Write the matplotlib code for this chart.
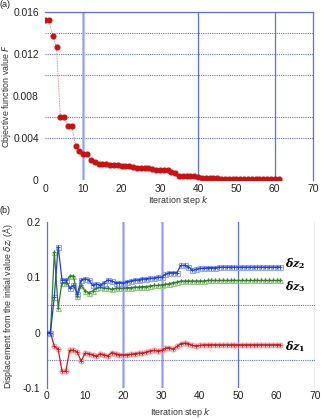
import numpy as np
import matplotlib
matplotlib.use("Agg")
import matplotlib.pyplot as plt

plt.rcParams['font.family'] = ['Liberation Sans', 'DejaVu Sans']
plt.rcParams['mathtext.fontset'] = 'dejavusans'

# ---- Panel (a): objective function value ----
k_a = list(range(62))
F_vals = [0.01524, 0.01524, 0.01377, 0.01266, 0.00601, 0.00601, 0.00515, 0.00515,
          0.00328, 0.00277, 0.00248, 0.00248, 0.00191, 0.00172, 0.00153, 0.00153,
          0.00150, 0.00145, 0.00142, 0.00140, 0.00137, 0.00136, 0.00134, 0.00122,
          0.00120, 0.00120, 0.00120, 0.00120, 0.00110, 0.00097, 0.00095, 0.00095,
          0.00095, 0.00075, 0.00070, 0.00040, 0.00040, 0.00040, 0.00040, 0.00038,
          0.00030, 0.00020, 0.00020, 0.00020, 0.00020, 0.00020, 0.00015, 0.00015,
          0.00015, 0.00015, 0.00014, 0.00014, 0.00013, 0.00013, 0.00012, 0.00012,
          0.00011, 0.00011, 0.00010, 0.00010, 0.00010, 0.00010]

# ---- Panel (b): displacements ----
k_b = list(range(62))
dz2 = [0, 0, 0.065, 0.155, 0.095, 0.095, 0.080, 0.085, 0.070, 0.095, 0.097, 0.095,
       0.085, 0.088, 0.085, 0.090, 0.095, 0.093, 0.090, 0.090, 0.090, 0.092, 0.093,
       0.095, 0.095, 0.097, 0.097, 0.098, 0.098, 0.100, 0.100, 0.105, 0.108, 0.108,
       0.108, 0.121, 0.121, 0.119, 0.112, 0.114, 0.116, 0.116, 0.117, 0.117, 0.117,
       0.118, 0.118, 0.118, 0.118, 0.118, 0.118, 0.118, 0.118, 0.118, 0.118, 0.118,
       0.118, 0.118, 0.118, 0.118, 0.118, 0.118]
dz3 = [0, 0, 0.145, 0.045, 0.090, 0.090, 0.102, 0.102, 0.066, 0.085, 0.075, 0.072,
       0.075, 0.080, 0.082, 0.080, 0.080, 0.078, 0.080, 0.080, 0.080, 0.081, 0.081,
       0.082, 0.082, 0.083, 0.083, 0.084, 0.085, 0.085, 0.086, 0.087, 0.088, 0.090,
       0.091, 0.093, 0.093, 0.093, 0.093, 0.093, 0.093, 0.093, 0.094, 0.094, 0.094,
       0.094, 0.094, 0.094, 0.094, 0.094, 0.094, 0.094, 0.094, 0.094, 0.094, 0.094,
       0.094, 0.094, 0.094, 0.094, 0.094, 0.094]
dz1 = [0, 0, -0.025, -0.030, -0.070, -0.070, -0.032, -0.032, -0.035, -0.052, -0.037,
       -0.038, -0.040, -0.043, -0.038, -0.040, -0.042, -0.036, -0.038, -0.040, -0.040,
       -0.040, -0.039, -0.038, -0.037, -0.037, -0.035, -0.033, -0.032, -0.033, -0.032,
       -0.028, -0.027, -0.030, -0.025, -0.020, -0.019, -0.020, -0.023, -0.024, -0.023,
       -0.022, -0.022, -0.022, -0.022, -0.022, -0.022, -0.022, -0.022, -0.022, -0.022,
       -0.022, -0.022, -0.022, -0.022, -0.022, -0.022, -0.022, -0.022, -0.022, -0.022,
       -0.022]

xticks = [0, 10, 20, 30, 40, 50, 60, 70]
yticks_a = [0, 0.004, 0.008, 0.012, 0.016]
yticklabels_a = ['0', '0.004', '0.008', '0.012', '0.016']
yticks_b = [-0.1, 0, 0.1, 0.2]
yticklabels_b = ['-0.1', '0', '0.1', '0.2']

grid_dark = '#5b6ef0'
grid_light = '#b4c0f6'
text_col = '#222222'
fs_tick = 7.4
fs_label = 6.4

fig = plt.figure(figsize=(3.24, 4.19), dpi=100)

# ---------------- (a) ----------------
ax = fig.add_axes([0.139, 0.570, 0.827, 0.4006])
ax.set_xlim(0, 70)
ax.set_ylim(0, 0.016)
for s in ['left', 'bottom']:
    ax.spines[s].set_visible(False)
for s in ['top', 'right']:
    ax.spines[s].set_color(grid_dark)
    ax.spines[s].set_linewidth(0.9)
for y in [0.004, 0.006, 0.010, 0.012, 0.014]:
    ax.axhline(y, color=grid_dark, lw=0.8, ls=(0, (1, 1)), zorder=1)
ax.axvline(10, color=grid_light, lw=2.0, zorder=1)
ax.axvline(10, color=grid_dark, lw=0.6, alpha=0.5, zorder=1)
for x in [40, 60]:
    ax.axvline(x, color=grid_dark, lw=0.9, zorder=1)
ax.plot(k_a, F_vals, color='#e88a8a', lw=0.6, ls=(0, (2, 1)), zorder=2)
ax.plot(k_a, F_vals, 'o', color='#cc1010', ms=3.4, mec='#cc1010', zorder=3)
ax.set_xticks(xticks)
ax.set_yticks(yticks_a)
ax.set_yticklabels(yticklabels_a)
ax.tick_params(length=0, labelsize=fs_tick, pad=4.5, labelcolor=text_col)
ax.tick_params(axis='x', pad=2.5)
ax.set_xlabel('Iteration step $k$', fontsize=fs_label, color='#333333')
ax.set_ylabel('Objective function value $F$', fontsize=fs_label, color='#333333')
ax.xaxis.set_label_coords(0.5, -0.12)
ax.yaxis.set_label_coords(-0.143, 0.5)
ax.yaxis.label.set_va('center')
ax.xaxis.label.set_va('center')
fig.text(0.0, 0.999, '(a)', fontsize=6.5, ha='left', va='top', color=text_col)

# ---------------- (b) ----------------
bx = fig.add_axes([0.144, 0.074, 0.828, 0.397])
bx.set_xlim(0, 70)
bx.set_ylim(-0.1, 0.2)
for s in ['top', 'bottom', 'right']:
    bx.spines[s].set_visible(False)
bx.spines['left'].set_color(grid_dark)
bx.spines['left'].set_linewidth(0.9)
bx.axvline(70, color=grid_dark, lw=0.9, zorder=1)
bx.axvline(50, color=grid_dark, lw=0.9, zorder=1)
for x in [20, 30]:
    bx.axvline(x, color=grid_light, lw=2.0, zorder=1)
    bx.axvline(x, color=grid_dark, lw=0.6, alpha=0.5, zorder=1)
for y in [0.05, -0.05]:
    bx.axhline(y, color=grid_dark, lw=0.8, ls=(0, (1, 1)), zorder=1)

series = [
    (dz1, '#d41515', '#f2a0a8', 'o'),
    (dz3, '#2f7d20', '#98c888', '^'),
    (dz2, '#1f3ee8', '#95a8f5', 's'),
]
for vals, dark, light, mk in series:
    bx.plot(k_b, vals, ls='none', marker=mk, ms=3.6, mfc='none', mec=light, mew=0.8, zorder=2)
    bx.plot(k_b, vals, color=dark, lw=0.9, marker='+', ms=3.2, mew=0.6, zorder=3)

bx.set_xticks(xticks)
bx.set_yticks(yticks_b)
bx.set_yticklabels(yticklabels_b)
bx.tick_params(length=0, labelsize=fs_tick, pad=4.5, labelcolor=text_col)
bx.tick_params(axis='x', pad=2.5)
bx.set_xlabel('Iteration step $k$', fontsize=fs_label, color='#333333')
bx.set_ylabel(r'Displacement from the initial value $\delta z_i$ (Å)', fontsize=fs_label,
              color='#333333')
bx.xaxis.set_label_coords(0.5, -0.15)
bx.yaxis.set_label_coords(-0.143, 0.49)
bx.yaxis.label.set_va('center')
bx.xaxis.label.set_va('center')
fig.text(0.0, 0.508, '(b)', fontsize=6.5, ha='left', va='top', color=text_col)

for txt, yv in [(r'$\mathbfit{\delta z}_{\mathbf{2}}$', 0.124),
                (r'$\mathbfit{\delta z}_{\mathbf{3}}$', 0.083),
                (r'$\mathbfit{\delta z}_{\mathbf{1}}$', -0.026)]:
    bx.text(62.3, yv, txt, fontsize=8, ha='left', va='center', math_fontfamily='dejavuserif')

fig.savefig('out.png', dpi=100)
